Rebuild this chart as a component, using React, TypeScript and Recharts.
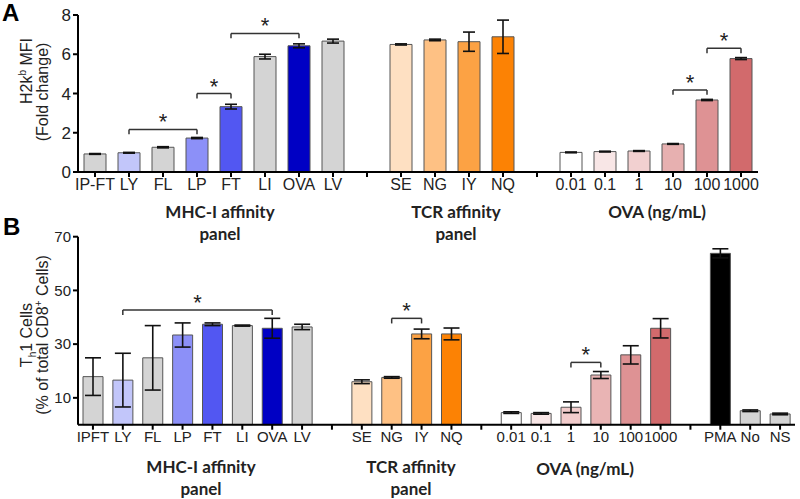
import { Bar, BarChart, Cell, ErrorBar, ReferenceLine, XAxis, YAxis } from "recharts";

// Panel A: H2k^b MFI fold change
const catsA = ["IP-FT", "LY", "FL", "LP", "FT", "LI", "OVA", "LV", "gap1", "SE", "NG", "IY", "NQ", "gap2", "0.01", "0.1", "1", "10", "100", "1000"];
const mfi = [0.92, 0.98, 1.26, 1.73, 3.33, 5.88, 6.43, 6.67, null, 6.5, 6.73, 6.64, 6.89, null, 1.0, 1.04, 1.07, 1.43, 3.67, 5.78];
const mfiErr = [0.02, 0.02, 0.03, 0.03, 0.12, 0.12, 0.1, 0.1, null, 0.03, 0.04, 0.49, 0.85, null, 0.02, 0.02, 0.02, 0.02, 0.03, 0.05];
const colorsA = ["#d4d4d4", "#c2c6fa", "#d4d4d4", "#8c90f8", "#5257f2", "#d4d4d4", "#0000c4", "#d4d4d4", "#fff", "#fee0c2", "#fec184", "#fca244", "#fc8204", "#fff", "#ffffff", "#f8e6e6", "#f2d0d0", "#e7b0b0", "#de9294", "#d26a6c"];
const sigA = [
  { from: "LY", to: "LP", y: 2.17 },
  { from: "LP", to: "FT", y: 4.0 },
  { from: "FT", to: "OVA", y: 7.06 },
  { from: "10", to: "100", y: 4.18 },
  { from: "100", to: "1000", y: 6.3 },
];

// Panel B: Th1 cells, % of CD8+
const catsB = ["IPFT", "LY", "FL", "LP", "FT", "LI", "OVA", "LV", "gap1", "SE", "NG", "IY", "NQ", "gap2", "0.01", "0.1", "1", "10", "100", "1000", "gap3", "PMA", "No", "NS"];
const th1 = [17.9, 16.6, 24.9, 33.4, 37.4, 36.9, 35.9, 36.4, null, 16.0, 17.6, 33.8, 33.8, null, 4.5, 4.2, 6.5, 18.5, 26.0, 35.9, null, 63.8, 5.2, 4.0];
const th1Err = [7, 10, 12, 4.5, 0.5, 0.2, 3.7, 1, null, 0.7, 0.3, 1.8, 2.2, null, 0.3, 0.3, 2, 1.3, 3.4, 3.6, null, 1.7, 0.3, 0.3];
const colorsB = ["#d4d4d4", "#c2c6fa", "#d4d4d4", "#8c90f8", "#5257f2", "#d4d4d4", "#0000c4", "#d4d4d4", "#fff", "#fee0c2", "#fec184", "#fca244", "#fc8204", "#fff", "#ffffff", "#f8e6e6", "#f2cccc", "#e9b4b4", "#de9294", "#d26a6c", "#fff", "#000000", "#d4d4d4", "#d4d4d4"];
const sigB = [
  { from: "LY", to: "OVA", y: 42.7 },
  { from: "NG", to: "IY", y: 39.6 },
  { from: "1", to: "10", y: 23.2 },
];

const FONT = "Arial, Liberation Sans, sans-serif";
const BOLD = "Lato, Open Sans, sans-serif";

type Sig = { from: string; to: string; y: number };

function Panel(props: {
  cats: string[];
  values: (number | null)[];
  errs: (number | null)[];
  colors: string[];
  domain: [number, number];
  ticks: number[];
  sig: Sig[];
  drop: number;
  barSize: number;
  cap: number;
  height: number;
  margin: { top: number; right: number; left: number; bottom: number };
  xFont: number;
  yFont: number;
}) {
  const { cats, values, errs, colors, sig, drop } = props;
  const data = cats.map((c, i) => ({ cat: c, v: values[i], err: errs[i] }));
  return (
    <BarChart width={800} height={props.height} data={data} margin={props.margin}>
      <XAxis
        dataKey="cat"
        interval={0}
        height={30}
        tickFormatter={(v: string) => (v.startsWith("gap") ? "" : v)}
        tick={{ fontSize: props.xFont, fill: "#222", fontFamily: FONT }}
        axisLine={{ stroke: "#000", strokeWidth: 2 }}
        tickLine={{ stroke: "#000", strokeWidth: 2 }}
        tickSize={5}
      />
      <YAxis
        width={60}
        domain={props.domain}
        ticks={props.ticks}
        tick={{ fontSize: props.yFont, fill: "#222", fontFamily: FONT }}
        axisLine={{ stroke: "#000", strokeWidth: 2 }}
        tickLine={{ stroke: "#000", strokeWidth: 2 }}
        tickSize={5}
      />
      <Bar dataKey="v" barSize={props.barSize} stroke="#555" strokeWidth={1} isAnimationActive={false}>
        {data.map((d, i) => (
          <Cell key={d.cat} fill={colors[i]} />
        ))}
        <ErrorBar dataKey="err" width={props.cap} stroke="#111" strokeWidth={1.6} direction="y" />
      </Bar>
      {sig.flatMap((s) => [
        <ReferenceLine
          key={s.from + s.to + "h"}
          segment={[{ x: s.from, y: s.y }, { x: s.to, y: s.y }]}
          stroke="#333"
          strokeWidth={1.5}
          label={{ value: "*", position: "top", fontSize: 22, fill: "#222", fontFamily: FONT, offset: 0 }}
        />,
        <ReferenceLine key={s.from + s.to + "l"} segment={[{ x: s.from, y: s.y }, { x: s.from, y: s.y - drop }]} stroke="#333" strokeWidth={1.5} />,
        <ReferenceLine key={s.from + s.to + "r"} segment={[{ x: s.to, y: s.y }, { x: s.to, y: s.y - drop }]} stroke="#333" strokeWidth={1.5} />,
      ])}
    </BarChart>
  );
}

const abs = (left: number, top: number, extra: React.CSSProperties = {}): React.CSSProperties => ({
  position: "absolute",
  left,
  top,
  ...extra,
});

function Group({ x, y, lines }: { x: number; y: number; lines: string[] }) {
  return (
    <div
      style={abs(x - 100, y - 11, {
        width: 200,
        textAlign: "center",
        fontFamily: BOLD,
        fontWeight: 700,
        fontSize: 17,
        lineHeight: "22px",
        color: "#222",
      })}
    >
      {lines.map((l) => (
        <div key={l}>{l}</div>
      ))}
    </div>
  );
}

// one rotated line of the y-axis title, centred on (cx, cy)
function YLine({ cx, cy, children }: { cx: number; cy: number; children: React.ReactNode }) {
  return (
    <div
      style={abs(cx - 110, cy - 10, {
        width: 220,
        height: 20,
        transform: "rotate(-90deg)",
        textAlign: "center",
        fontFamily: FONT,
        fontSize: 16,
        lineHeight: "20px",
        color: "#222",
        whiteSpace: "nowrap",
      })}
    >
      {children}
    </div>
  );
}

const sup: React.CSSProperties = { fontSize: 10, lineHeight: 0 };

export default function App() {
  return (
    <div style={{ position: "absolute", left: 0, top: 0, width: 800, height: 499, background: "#fff", overflow: "hidden" }}>
      <div style={abs(0, 0)}>
        <Panel
          cats={catsA}
          values={mfi}
          errs={mfiErr}
          colors={colorsA}
          domain={[0, 8]}
          ticks={[0, 2, 4, 6, 8]}
          sig={sigA}
          drop={0.25}
          barSize={22}
          cap={6}
          height={250}
          margin={{ top: 15, right: 42, left: 18, bottom: 48 }}
          xFont={16}
          yFont={17}
        />
      </div>
      <div style={abs(0, 220)}>
        <Panel
          cats={catsB}
          values={th1}
          errs={th1Err}
          colors={colorsB}
          domain={[0, 70]}
          ticks={[10, 30, 50, 70]}
          sig={sigB}
          drop={1.9}
          barSize={20}
          cap={8}
          height={260}
          margin={{ top: 16.7, right: 5, left: 18, bottom: 25.3 }}
          xFont={15}
          yFont={15}
        />
      </div>

      <div style={abs(2, 1, { fontFamily: FONT, fontWeight: 700, fontSize: 24, lineHeight: "24px" })}>A</div>
      <div style={abs(3, 215, { fontFamily: FONT, fontWeight: 700, fontSize: 24, lineHeight: "24px" })}>B</div>

      <YLine cx={27} cy={71}>
        H2k<sup style={sup}>b</sup> MFI
      </YLine>
      <YLine cx={43} cy={92}>
        (Fold change)
      </YLine>
      <YLine cx={27} cy={335}>
        T<sub style={sup}>h</sub>1 Cells
      </YLine>
      <YLine cx={43} cy={335}>
        (% of total CD8<sup style={sup}>+</sup> Cells)
      </YLine>

      <Group x={220} y={212} lines={["MHC-I affinity", "panel"]} />
      <Group x={456} y={212} lines={["TCR affinity", "panel"]} />
      <Group x={657} y={212} lines={["OVA (ng/mL)"]} />

      <Group x={201} y={467} lines={["MHC-I affinity", "panel"]} />
      <Group x={411} y={467} lines={["TCR affinity", "panel"]} />
      <Group x={585} y={469} lines={["OVA (ng/mL)"]} />
    </div>
  );
}
